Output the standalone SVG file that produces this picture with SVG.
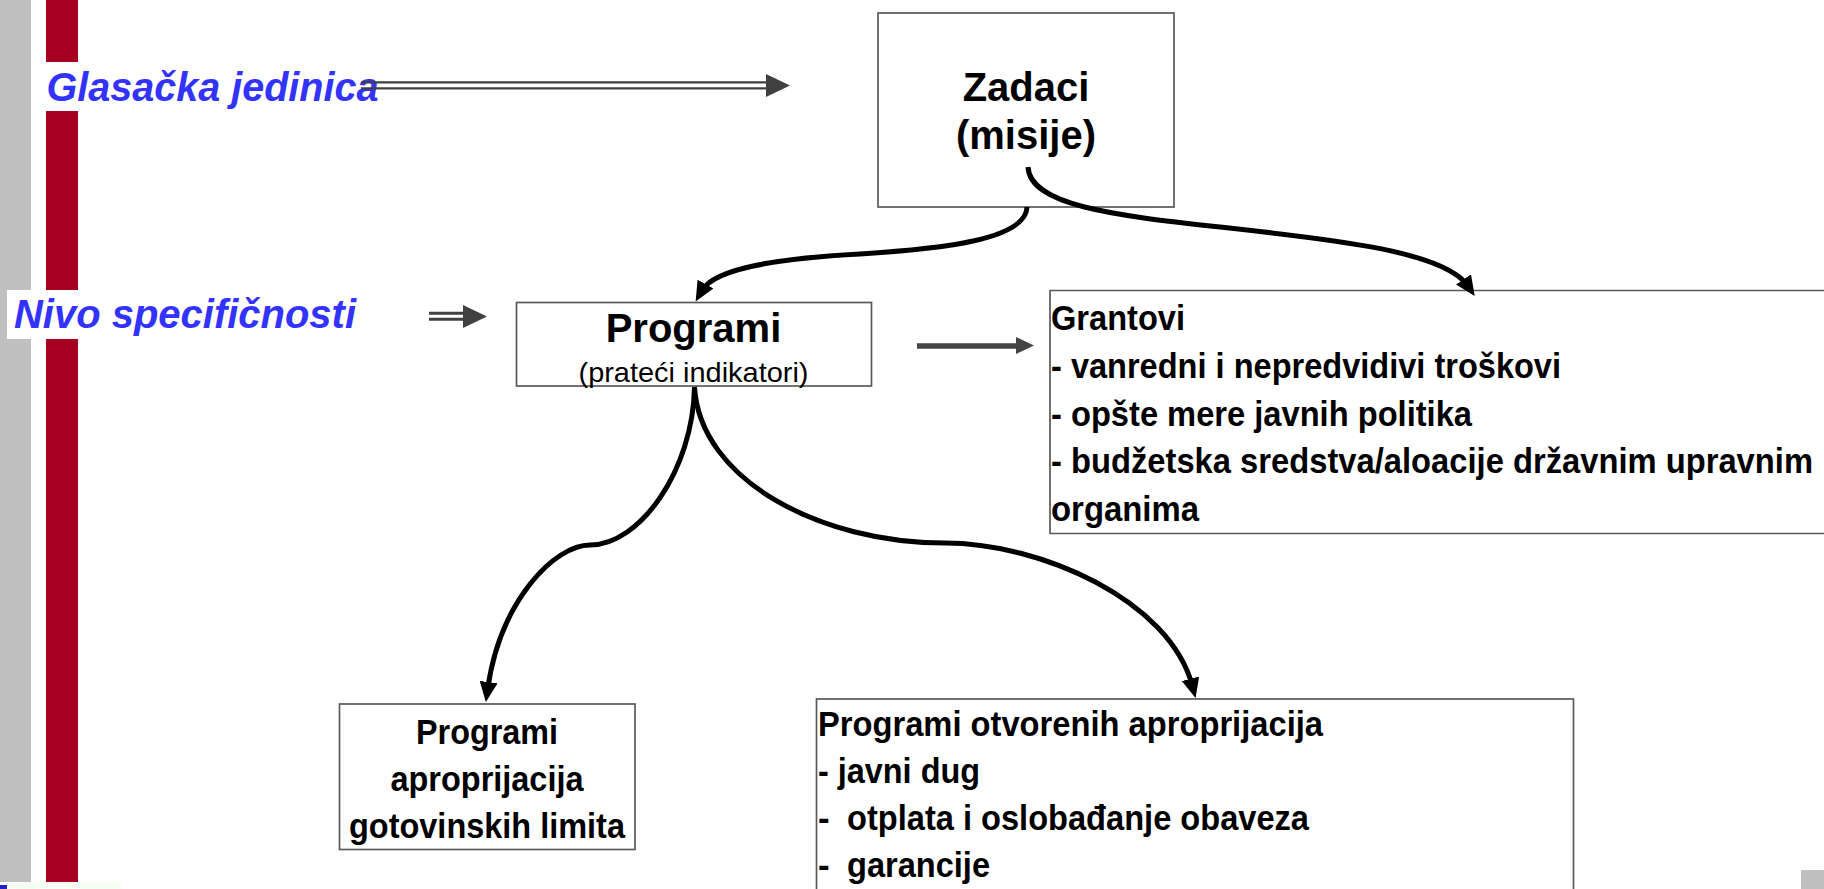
<svg xmlns="http://www.w3.org/2000/svg" width="1824" height="889" viewBox="0 0 1824 889">
<style>
.box{fill:#fff;stroke:#5a5a5a;stroke-width:1.7}
.t{font-family:"Liberation Sans",Arial,sans-serif;fill:#000}
.b40{font-size:40px;font-weight:bold}
.b35{font-size:35px;font-weight:bold}
.lbl{font-family:"Liberation Sans",Arial,sans-serif;font-size:40px;font-weight:bold;font-style:italic;fill:#3333ff}
.curve{fill:none;stroke:#000;stroke-width:5;marker-end:url(#ah)}
.dbl{stroke:#404040}
</style>
<defs>
<marker id="ah" markerUnits="userSpaceOnUse" markerWidth="20" markerHeight="18" viewBox="0 0 20 18" refX="8" refY="9" orient="auto">
<path d="M0,0 L20,9 L0,18 z" fill="#000"/>
</marker>
</defs>
<rect x="0" y="0" width="1824" height="889" fill="#fff"/>
<g id="decor">
<rect x="0" y="0" width="31" height="882" fill="#c0c0c0"/>
<rect x="46" y="0" width="32" height="882" fill="#a50021"/>
<rect x="0" y="882" width="122" height="7" fill="#f6fff3"/>
<rect x="0" y="885" width="7" height="4" fill="#2020d0"/>
<rect x="1801" y="870" width="23" height="19" fill="#c0c0c0"/>
</g>
<g id="label-glasacka">
<rect x="38" y="62" width="345" height="49" fill="#fff"/>
<text class="lbl" x="46.5" y="101" textLength="332" lengthAdjust="spacingAndGlyphs">Glasačka jedinica</text>
</g>
<g id="label-nivo">
<rect x="7" y="290" width="355" height="49" fill="#fff"/>
<text class="lbl" x="14" y="328" textLength="342" lengthAdjust="spacingAndGlyphs">Nivo specifičnosti</text>
</g>
<g id="node-zadaci">
<rect class="box" x="878" y="13" width="296" height="194"/>
<text class="t b40" x="1026" y="101" text-anchor="middle">Zadaci</text>
<text class="t b40" x="1026" y="149" text-anchor="middle">(misije)</text>
</g>
<g id="node-programi">
<rect class="box" x="516.5" y="302.5" width="355" height="83.5"/>
<text class="t b40" x="693.5" y="342" text-anchor="middle">Programi</text>
<text class="t" x="693.5" y="382" text-anchor="middle" font-size="28" textLength="230" lengthAdjust="spacingAndGlyphs">(prateći indikatori)</text>
</g>
<g id="node-grantovi">
<rect x="1050" y="290.5" width="774" height="243" fill="#fff"/>
<path d="M1824,290.5 H1050 V533.5 H1824" fill="none" stroke="#5a5a5a" stroke-width="1.7"/>
<text class="t b35" x="1051" y="329.5" textLength="134" lengthAdjust="spacingAndGlyphs">Grantovi</text>
<text class="t b35" x="1051" y="377.5" textLength="510" lengthAdjust="spacingAndGlyphs">- vanredni i nepredvidivi troškovi</text>
<text class="t b35" x="1051" y="425.5" textLength="421" lengthAdjust="spacingAndGlyphs">- opšte mere javnih politika</text>
<text class="t b35" x="1051" y="473" textLength="762" lengthAdjust="spacingAndGlyphs">- budžetska sredstva/aloacije državnim upravnim</text>
<text class="t b35" x="1051" y="520.5" textLength="148" lengthAdjust="spacingAndGlyphs">organima</text>
</g>
<g id="node-gotovinski">
<rect class="box" x="339.5" y="704" width="295.5" height="145.5"/>
<text class="t b35" x="487" y="743.5" text-anchor="middle" textLength="142" lengthAdjust="spacingAndGlyphs">Programi</text>
<text class="t b35" x="487" y="790.5" text-anchor="middle" textLength="193" lengthAdjust="spacingAndGlyphs">aproprijacija</text>
<text class="t b35" x="487" y="838" text-anchor="middle" textLength="276" lengthAdjust="spacingAndGlyphs">gotovinskih limita</text>
</g>
<g id="node-otvorene">
<rect class="box" x="816.5" y="699" width="757" height="220"/>
<text class="t b35" x="818" y="736" textLength="505" lengthAdjust="spacingAndGlyphs">Programi otvorenih aproprijacija</text>
<text class="t b35" x="818" y="783" textLength="162" lengthAdjust="spacingAndGlyphs">- javni dug</text>
<text class="t b35" x="818" y="830">-</text>
<text class="t b35" x="847" y="830" textLength="462" lengthAdjust="spacingAndGlyphs">otplata i oslobađanje obaveza</text>
<text class="t b35" x="818" y="877">-</text>
<text class="t b35" x="847" y="877" textLength="143" lengthAdjust="spacingAndGlyphs">garancije</text>
</g>
<g id="connectors">
<line class="dbl" x1="361" y1="82.3" x2="768" y2="82.3" stroke-width="2.3"/>
<line class="dbl" x1="361" y1="88.3" x2="768" y2="88.3" stroke-width="2.3"/>
<polygon points="766,74 790,85.5 766,97" fill="#404040"/>
<line class="dbl" x1="429" y1="313.3" x2="465" y2="313.3" stroke-width="3"/>
<line class="dbl" x1="429" y1="319.3" x2="465" y2="319.3" stroke-width="3"/>
<polygon points="463,305 487,316.5 463,328" fill="#404040"/>
<line x1="917" y1="346" x2="1018" y2="346" stroke="#444" stroke-width="5.3"/>
<polygon points="1016,337 1034,345.5 1016,354" fill="#444"/>
<path class="curve" d="M1027,207 C1026,240 940,249 860,254 C785,258 715,267 701.5,291"/>
<path class="curve" d="M1028,167 C1030,205 1110,215 1220,227 C1340,240 1445,252 1468,286"/>
<path class="curve" d="M694.5,387 C693,470 640,545 590,545 C555,545 500,600 487.5,690"/>
<path class="curve" d="M694.5,387 C700,480 820,543 945,543 C1040,543 1170,600 1192.5,686.5"/>
</g>
</svg>
